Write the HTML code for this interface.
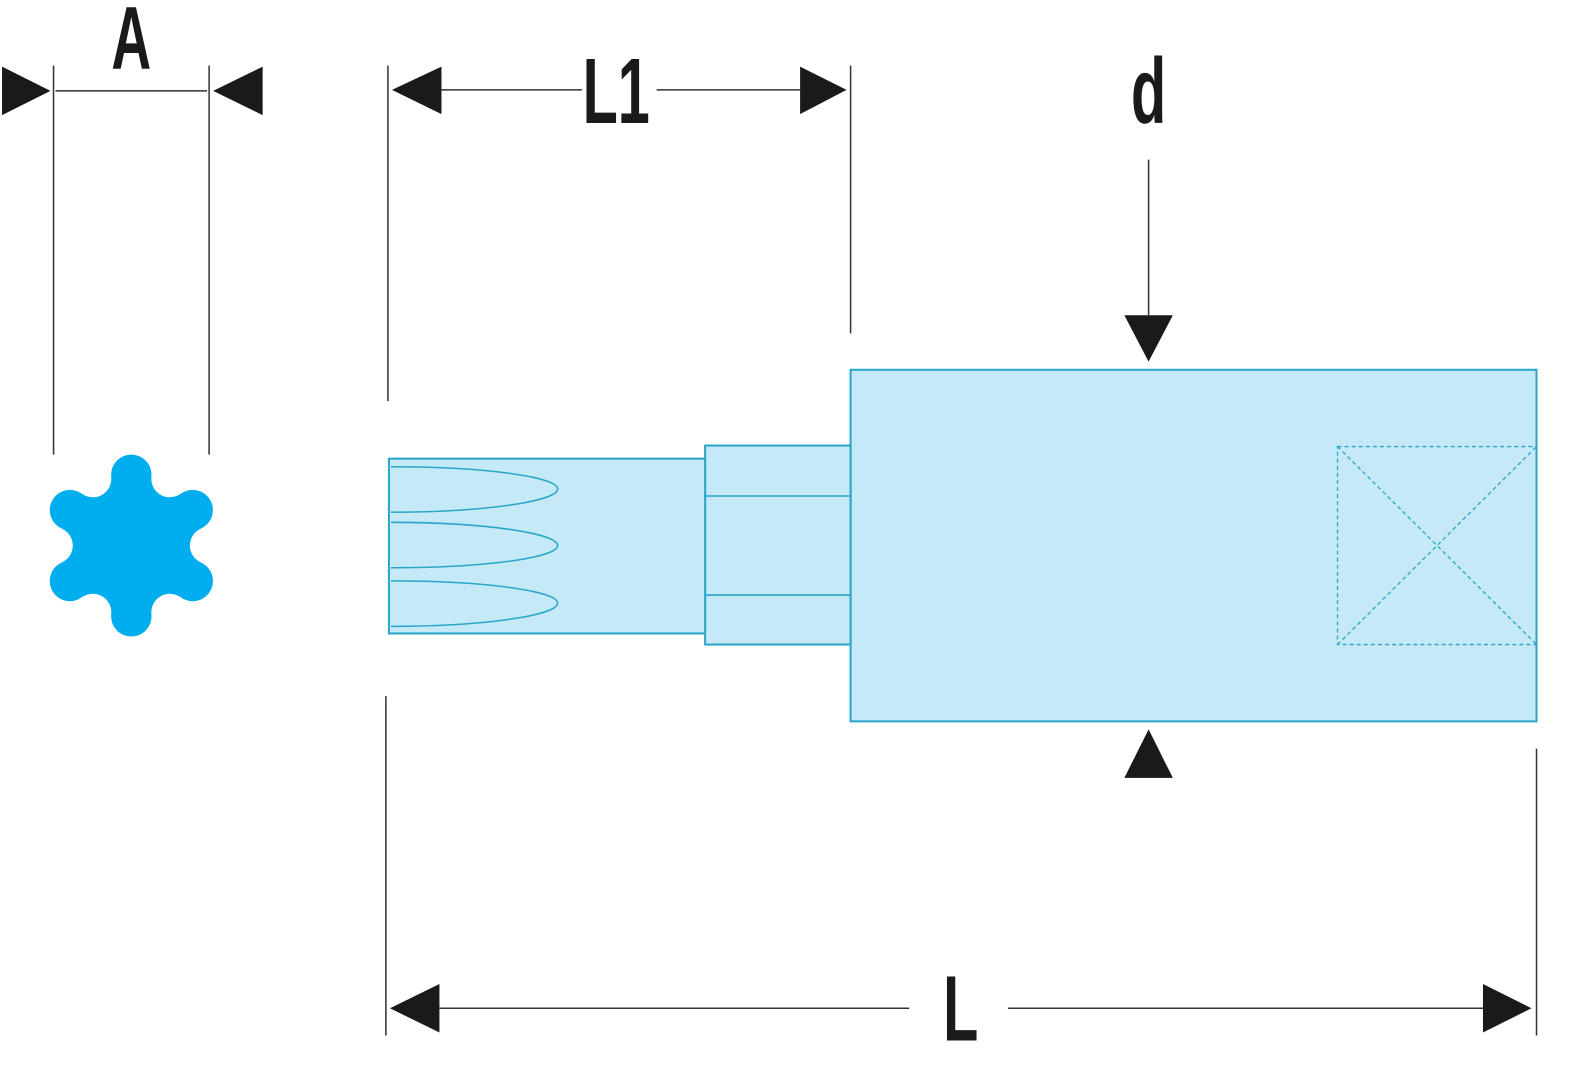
<!DOCTYPE html>
<html><head><meta charset="utf-8"><style>
html,body{margin:0;padding:0;background:#fff;width:1584px;height:1080px;overflow:hidden}
svg{display:block}
text{font-family:"Liberation Sans",sans-serif;font-weight:bold;fill:#1a1a1a}
</style></head><body>
<svg width="1584" height="1080" viewBox="0 0 1568 1069" preserveAspectRatio="none" xmlns="http://www.w3.org/2000/svg">
<g stroke="#333" stroke-width="1.5" fill="none">
<line x1="53" y1="65" x2="53" y2="450"/>
<line x1="207" y1="65" x2="207" y2="450"/>
<line x1="55" y1="90" x2="205" y2="90"/>
<line x1="384" y1="65" x2="384" y2="397"/>
<line x1="842" y1="65" x2="842" y2="330"/>
<line x1="437" y1="89" x2="576" y2="89"/>
<line x1="650" y1="89" x2="792" y2="89"/>
<line x1="1137" y1="158" x2="1137" y2="312"/>
<line x1="382" y1="689" x2="382" y2="1025"/>
<line x1="1521" y1="741" x2="1521" y2="1025"/>
<line x1="435" y1="998" x2="900" y2="998"/>
<line x1="998" y1="998" x2="1468" y2="998"/>
</g>
<g fill="#1a1a1a">
<polygon points="2,66 50,90 2,114"/>
<polygon points="260,66 211,90 260,114"/>
<polygon points="437,66 388,89 437,113"/>
<polygon points="792,66 838,89 792,113"/>
<polygon points="1113,312 1161,312 1137,358"/>
<polygon points="1113,770 1161,770 1137,722"/>
<polygon points="435,974 386,998 435,1022"/>
<polygon points="1468,974 1516,998 1468,1022"/>
</g>
<text x="130" y="68" font-size="88" text-anchor="middle" transform="translate(130 0) scale(0.62 1) translate(-130 0)">A</text>
<text x="610" y="122" font-size="92" text-anchor="middle" transform="translate(610 0) scale(0.62 1) translate(-610 0)">L1</text>
<text x="1137" y="122" font-size="92" text-anchor="middle" transform="translate(1137 0) scale(0.62 1) translate(-1137 0)">d</text>
<text x="951" y="1030" font-size="92" text-anchor="middle" transform="translate(951 0) scale(0.62 1) translate(-951 0)">L</text>
<!-- star -->
<path fill="#00aeef" d="M110.1,472 A20,20 0 1 1 149.9,472 A18.4,18.4 0 0 0 178.95,488.78 A20,20 0 1 1 198.83,523.22 A18.4,18.4 0 0 0 198.83,556.78 A20,20 0 1 1 178.95,591.22 A18.4,18.4 0 0 0 149.9,608 A20,20 0 1 1 110.1,608 A18.4,18.4 0 0 0 81.05,591.22 A20,20 0 1 1 61.17,556.78 A18.4,18.4 0 0 0 61.17,523.22 A20,20 0 1 1 81.05,488.78 A18.4,18.4 0 0 0 110.1,472 Z"/>
<!-- body -->
<g fill="#c5e9f7" stroke="#2aa6c8" stroke-width="2">
<rect x="842" y="366" width="679" height="348"/>
<rect x="698" y="441" width="144" height="197"/>
<rect x="385" y="454" width="313" height="173"/>
</g>
<g stroke="#2aa6c8" stroke-width="1.5" fill="none">
<line x1="698" y1="491" x2="842" y2="491"/>
<line x1="698" y1="589" x2="842" y2="589"/>
<path d="M387,462 C480,462 552,472 552,484 C552,496 480,507 387,507"/>
<path d="M387,517 C480,517 552,528 552,540 C552,552 480,562 387,562"/>
<path d="M387,575 C480,575 552,585 552,597 C552,609 480,620 387,620"/>
</g>
<g stroke="#2aa6c8" stroke-width="1.3" fill="none" stroke-dasharray="4,3">
<rect x="1324" y="442" width="197" height="196"/>
<line x1="1324" y1="442" x2="1521" y2="638"/>
<line x1="1324" y1="638" x2="1521" y2="442"/>
</g>
</svg>
</body></html>
